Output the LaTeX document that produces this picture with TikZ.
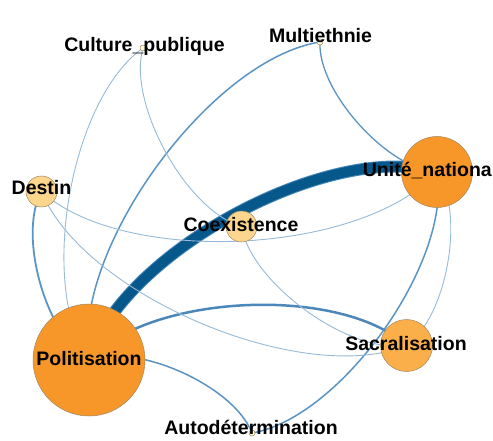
\documentclass[tikz,border=0pt]{standalone}
\usepackage{fontspec}
\setmainfont{Liberation Sans}
\pgfdeclarelayer{bg}
\pgfsetlayers{bg,main}
\definecolor{orangeA}{RGB}{247,151,41}
\definecolor{orangeB}{RGB}{251,175,74}
\definecolor{peach}{RGB}{253,214,142}
\definecolor{pale}{RGB}{255,251,214}
\definecolor{nodeline}{RGB}{160,135,100}
\definecolor{thickblue}{RGB}{6,87,138}
\definecolor{thickrim}{RGB}{70,135,185}
\definecolor{strongblue}{RGB}{75,135,185}
\definecolor{midblue}{RGB}{90,148,196}
\definecolor{lightblue}{RGB}{150,186,216}
\begin{document}
\begin{tikzpicture}[x=1pt,y=1pt,
  vnode/.style={circle,inner sep=0pt,draw=nodeline,line width=0.5pt},
  lab/.style={anchor=base,inner sep=0pt,text=black,font=\fontsize{19.5}{22}\selectfont\bfseries},
  curve/.style={bend left=45,looseness=0.7224},
  wthickrim/.style={line width=12pt,draw=thickrim},
  wthick/.style={line width=10pt,draw=thickblue},
  wstrong/.style={line width=2.5pt,draw=strongblue},
  wmid/.style={line width=1.5pt,draw=midblue},
  wlight/.style={line width=0.9pt,draw=lightblue},
]
\path[use as bounding box] (0,0) rectangle (493,440);
\clip (0,0) rectangle (493,440);
% vertices
\node[vnode,fill=orangeA,minimum size=112pt] (pol) at (89,80) {};
\node[vnode,fill=orangeA,minimum size=71pt] (uni) at (437,268) {};
\node[vnode,fill=orangeB,minimum size=52pt] (sac) at (406.5,94.5) {};
\node[vnode,fill=peach,minimum size=31pt] (des) at (41.5,248.5) {};
\node[vnode,fill=peach,minimum size=31pt] (coe) at (241.5,213.5) {};
\node[vnode,fill=pale,minimum size=6pt] (cul) at (143,392) {};
\node[vnode,fill=pale,minimum size=6pt] (mul) at (320,398) {};
\node[vnode,fill=pale,minimum size=6pt] (aut) at (252,7) {};
% edges
\begin{pgfonlayer}{bg}
\draw[wthickrim] (pol.center) to[curve] (uni.center);
\draw[wthick] (pol.center) to[curve] (uni.center);
\draw[wstrong] (pol.center) to[curve] (sac.center);
\draw[wmid,line width=1.8pt] (pol.center) to[curve] (des.center);
\draw[wmid] (pol.center) to[curve] (mul.center);
\draw[wlight] (pol.center) to[curve] (cul.center);
\draw[wmid] (pol.center) to[curve] (aut.center);
\draw[wlight] (uni.center) to[curve] (des.center);
\draw[wmid,line width=1.3pt] (uni.center) to[curve] (mul.center);
\draw[wmid] (uni.center) to[curve] (aut.center);
\draw[wlight] (uni.center) to[curve] (sac.center);
\draw[wlight] (sac.center) to[curve] (des.center);
\draw[wlight] (sac.center) to[curve] (coe.center);
\draw[wlight] (coe.center) to[curve] (cul.center);
\end{pgfonlayer}
% labels
\node[lab] (lcul) at (144.5,388) {Culture\_publique};
\node[lab] (lmul) at (320.5,397) {Multiethnie};
\node[lab] (luni) at (435.5,263) {Unité\_nationale};
\node[lab] (ldes) at (41.5,245) {Destin};
\node[lab] (lcoe) at (241,209) {Coexistence};
\node[lab] (lpol) at (89,75) {Politisation};
\node[lab] (lsac) at (406,90) {Sacralisation};
\node[lab] (laut) at (251,6) {Autodétermination};
\end{tikzpicture}
\end{document}
